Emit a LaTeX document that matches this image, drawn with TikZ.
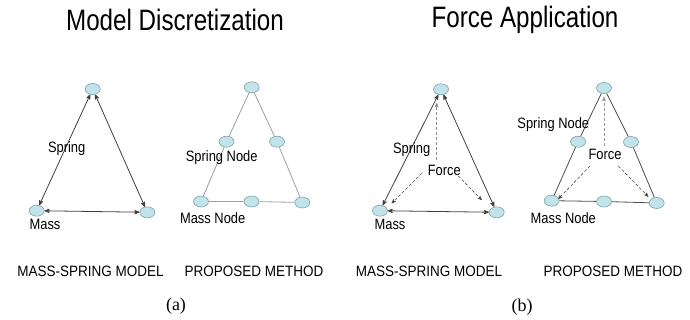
\documentclass[tikz,border=0pt]{standalone}
\usepackage{fontspec}
\setmainfont{Liberation Sans}
\newfontfamily\capfont{Liberation Serif}
\usepackage{tikz}
\usetikzlibrary{arrows}
\usetikzlibrary{positioning}
\usetikzlibrary{shapes.geometric}
\definecolor{nodefill}{RGB}{192,228,234}
\definecolor{nodeline}{RGB}{128,160,168}
\newcommand{\sq}[1]{\scalebox{.86}[1]{#1}}
\newcommand{\sqc}[1]{\scalebox{.9}[1]{#1}}
\tikzset{
  pt/.style={draw=nodeline,fill=nodefill,ellipse,minimum width=15pt,minimum height=11pt,inner sep=0pt,line width=.6pt},
  lbl/.style={font=\fontsize{15}{15}\selectfont,inner sep=0pt},
  spring/.style={draw=black!75,line width=.8pt,<->,>=stealth'},
  force/.style={draw=black!70,dash pattern=on 3pt off 2pt,line width=.6pt,->,>=stealth'}
}
\begin{document}
\begin{tikzpicture}[x=1pt,y=-1pt]
  \useasboundingbox (0,0) rectangle (690,320);
  % titles
  \node[font=\fontsize{29.5}{29.5}\selectfont] (t1) at (175,20) {\scalebox{.82}[1]{Model Discretization}};
  \node[font=\fontsize{29.5}{29.5}\selectfont] (t2) at (525,20) {\scalebox{.82}[1]{Force Application}};

  % (a) mass-spring model
  \node[pt] (a1) at (92.7,89) {};
  \node[pt] (a2) at (36.7,210.7) {};
  \node[pt] (a3) at (147.3,212.3) {};
  \draw[spring](a1)--(a2);
  \draw[spring](a1)--(a3);
  \draw[spring](a2)--(a3);
  \node[lbl] (sa) at (66.7,149) {\sq{Spring}};
  \node[lbl] (ma) at (45,224) {\sq{Mass}};

  % (a) proposed method
  \node[pt] (b1) at (251.7,87.3) {};
  \node[pt] (b2) at (226.5,141.7) {};
  \node[pt] (b3) at (277,141.7) {};
  \node[pt] (b4) at (201,201.5) {};
  \node[pt] (b5) at (251.5,201.5) {};
  \node[pt] (b6) at (302.3,202.5) {};
  \draw[black!38,line width=.8pt](b1)--(b2)--(b4)--(b5)--(b6)--(b3)--(b1);
  \node[lbl] (sb) at (221.7,157.3) {\sq{Spring Node}};
  \node[lbl] (mb) at (212.7,217.7) {\sq{Mass Node}};

  % (b) mass-spring model
  \node[pt] (c1) at (441,89.3) {};
  \node[pt] (c2) at (380,210.7) {};
  \node[pt] (c3) at (496.7,212.3) {};
  \draw[spring](c1)--(c2);
  \draw[spring](c1)--(c3);
  \draw[spring](c2)--(c3);
  \node[lbl] (sc) at (411.7,149.3) {\sq{Spring}};
  \node[lbl] (fc) at (444.3,170) {\sq{Force}};
  \node[lbl] (mc) at (390,224.7) {\sq{Mass}};
  \coordinate (fc0) at (436.7,160);
  \coordinate (fc1) at (436.7,103);
  \coordinate (fc2) at (421.7,173.3);
  \coordinate (fc3) at (391.7,203.3);
  \coordinate (fc4) at (458.3,176);
  \coordinate (fc5) at (481.7,200);
  \draw[force,black!45](fc0)--(fc1);
  \draw[force](fc2)--(fc3);
  \draw[force](fc4)--(fc5);

  % (b) proposed method
  \node[pt] (d1) at (604,88) {};
  \node[pt] (d2) at (578,141.7) {};
  \node[pt] (d3) at (631,142) {};
  \node[pt] (d4) at (551.7,200.7) {};
  \node[pt] (d5) at (604,201.5) {};
  \node[pt] (d6) at (656.7,203) {};
  \draw[black!70,line width=.8pt](d1)--(d2)--(d4)--(d5)--(d6)--(d3)--(d1);
  \node[lbl] (sd) at (553.3,125) {\sq{Spring Node}};
  \node[lbl] (fd) at (605,154.3) {\sq{Force}};
  \node[lbl] (md) at (563.3,218.3) {\sq{Mass Node}};
  \coordinate (fd0) at (604,146);
  \coordinate (fd1) at (604,97);
  \coordinate (fd2) at (590,166);
  \coordinate (fd3) at (558.3,199);
  \coordinate (fd4) at (618.3,166);
  \coordinate (fd5) at (648.3,196.7);
  \draw[force,black!40](fd0)--(fd1);
  \draw[force](fd2)--(fd3);
  \draw[force](fd4)--(fd5);

  % captions
  \node[lbl] (ca1) at (90.5,271) {\sqc{MASS-SPRING MODEL}};
  \node[lbl] (ca2) at (254,271) {\sqc{PROPOSED METHOD}};
  \node[lbl] (cb1) at (429,271) {\sqc{MASS-SPRING MODEL}};
  \node[lbl] (cb2) at (613,271) {\sqc{PROPOSED METHOD}};
  \node[font=\capfont\fontsize{18}{18}\selectfont] (pa) at (176,306) {(a)};
  \node[font=\capfont\fontsize{18}{18}\selectfont] (pb) at (522,307) {(b)};
\end{tikzpicture}
\end{document}
